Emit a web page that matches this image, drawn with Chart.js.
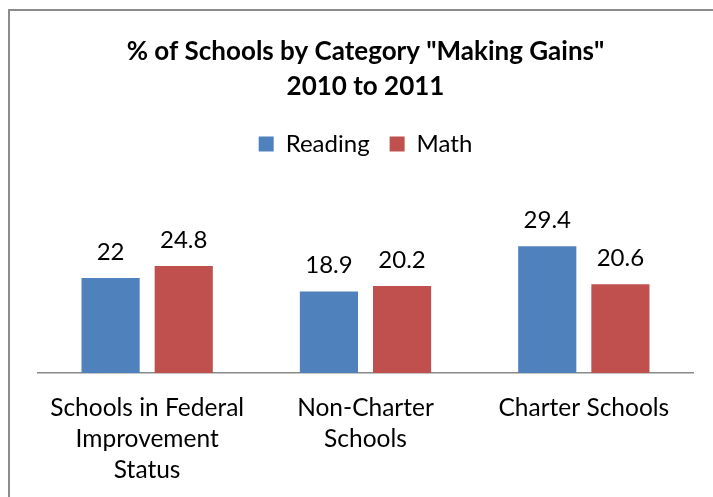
<!DOCTYPE html>
<html>
<head>
<meta charset="utf-8">
<script src="https://cdn.jsdelivr.net/npm/chart.js@4.4.0/dist/chart.umd.min.js"></script>
<style>
  html, body { margin: 0; padding: 0; background: #fff; overflow: hidden; }
  #frame {
    position: absolute; left: 8px; top: 9px; width: 760px; height: 540px;
    border: 2.5px solid #8c8c8c; box-sizing: border-box;
  }
  #wrap { position: absolute; left: 0; top: 0; width: 713px; height: 497px; }
</style>
</head>
<body>
<div id="frame"></div>
<div id="wrap"><canvas id="gainsChart"></canvas></div>
<script>
const categories = [
  ['Schools in Federal', 'Improvement', 'Status'],
  ['Non-Charter', 'Schools'],
  'Charter Schools'
];
const readingValues = [22, 18.9, 29.4];
const mathValues = [24.8, 20.2, 20.6];
const titleLines = ['% of Schools by Category "Making Gains"', '2010 to 2011'];

const fontFamily = 'Lato, "Open Sans", sans-serif';

// values printed above each bar
const barValueLabels = {
  id: 'barValueLabels',
  afterDatasetsDraw(chart) {
    const ctx = chart.ctx;
    ctx.save();
    ctx.font = '24px ' + fontFamily;
    ctx.fillStyle = '#000';
    ctx.textAlign = 'center';
    ctx.textBaseline = 'alphabetic';
    chart.data.datasets.forEach((ds, i) => {
      chart.getDatasetMeta(i).data.forEach((bar, j) => {
        ctx.fillText(String(ds.data[j]), bar.x, bar.y - 18);
      });
    });
    ctx.restore();
  }
};

document.addEventListener('DOMContentLoaded', function() {
  const ctx = document.getElementById('gainsChart');
  new Chart(ctx, {
    type: 'bar',
    data: {
      labels: categories,
      datasets: [{
        label: 'Reading',
        data: readingValues,
        backgroundColor: '#4F81BD',
        barPercentage: 0.795,
        categoryPercentage: 0.67
      }, {
        label: 'Math',
        data: mathValues,
        backgroundColor: '#C0504D',
        barPercentage: 0.795,
        categoryPercentage: 0.67
      }]
    },
    options: {
      responsive: true,
      maintainAspectRatio: false,
      animation: false,
      layout: { padding: { left: 38, right: 20, top: 0, bottom: 0 } },
      plugins: {
        title: {
          display: true,
          text: titleLines,
          color: '#000',
          font: { family: fontFamily, size: 26, weight: 'bold', lineHeight: 1.346 },
          padding: { top: 34, bottom: 8 }
        },
        legend: {
          display: true,
          position: 'top',
          labels: {
            color: '#000',
            font: { family: fontFamily, size: 24 },
            boxWidth: 15,
            boxHeight: 15,
            padding: 20
          }
        },
        tooltip: { enabled: false }
      },
      scales: {
        y: {
          display: false,
          min: 0,
          max: 48
        },
        x: {
          grid: { display: false, drawTicks: false },
          border: { display: true, color: '#8a8a8a', width: 1.5 },
          ticks: {
            color: '#000',
            padding: 20,
            maxRotation: 0,
            font: { family: fontFamily, size: 24.5, lineHeight: 1.265 }
          },
          // fixed band for the category labels under the axis line
          afterFit(scale) {
            scale.height = 124;
          }
        }
      }
    },
    plugins: [barValueLabels]
  });
});
</script>
</body>
</html>
